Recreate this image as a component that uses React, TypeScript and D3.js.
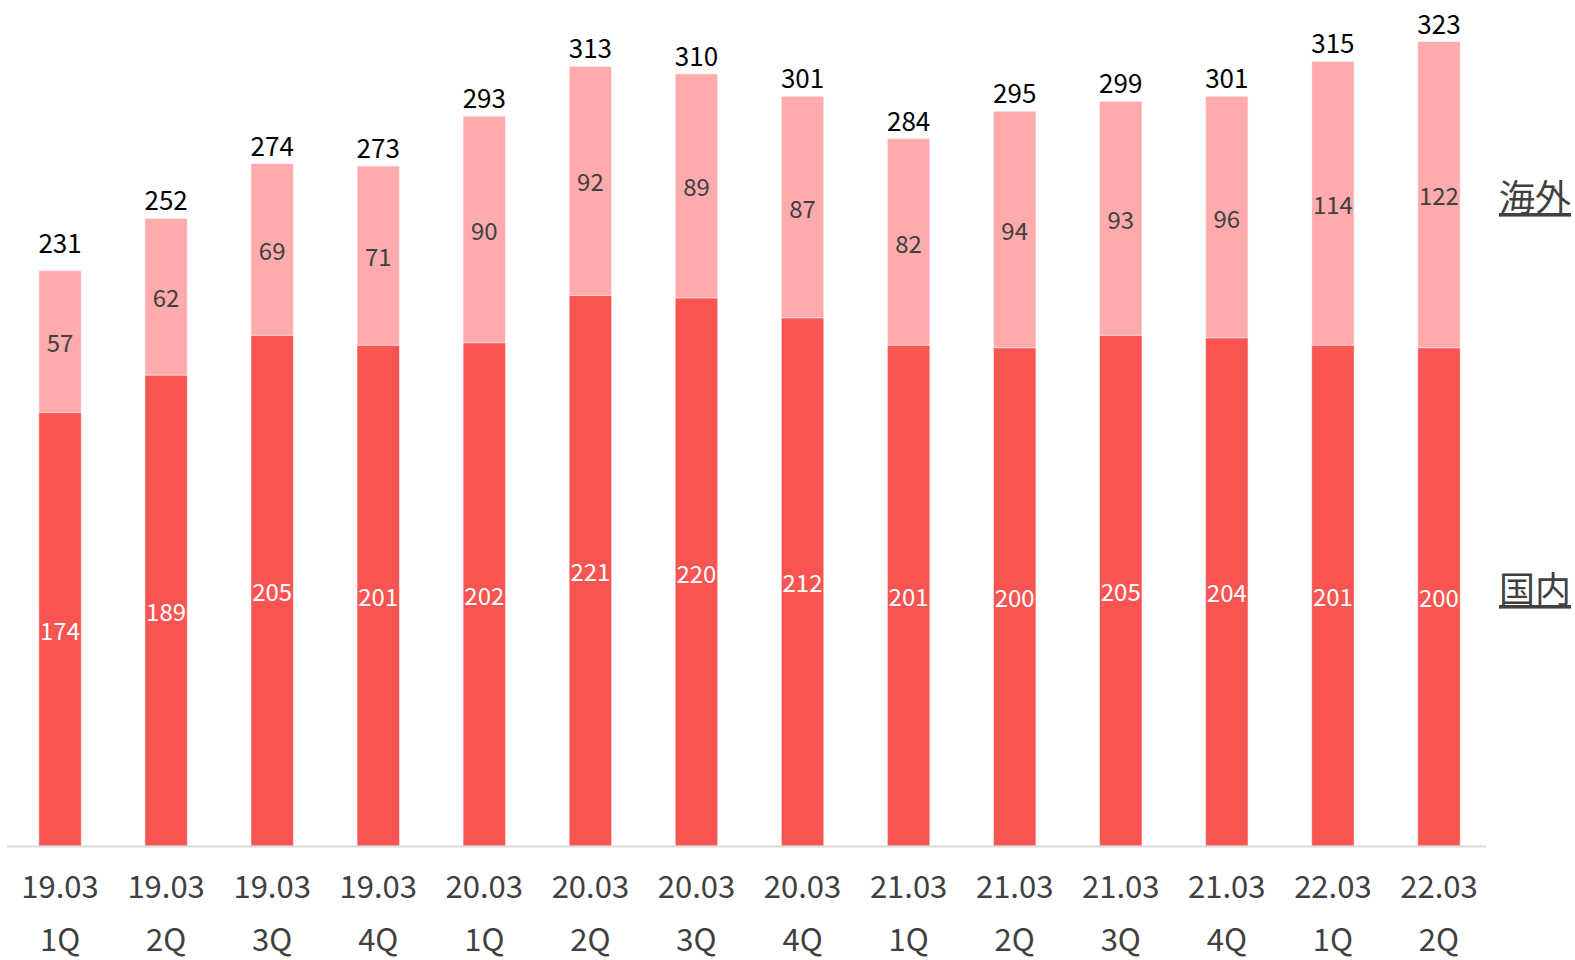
import React from "react";
import * as d3 from "d3";

const periods = ["19.03", "19.03", "19.03", "19.03", "20.03", "20.03", "20.03", "20.03", "21.03", "21.03", "21.03", "21.03", "22.03", "22.03"];
const quarters = ["1Q", "2Q", "3Q", "4Q", "1Q", "2Q", "3Q", "4Q", "1Q", "2Q", "3Q", "4Q", "1Q", "2Q"];
const domestic = [174, 189, 205, 201, 202, 221, 220, 212, 201, 200, 205, 204, 201, 200];
const overseas = [57, 62, 69, 71, 90, 92, 89, 87, 82, 94, 93, 96, 114, 122];
const totals = [231, 252, 274, 273, 293, 313, 310, 301, 284, 295, 299, 301, 315, 323];
const legendLabels = ["海外", "国内"];

const W = 1575;
const H = 960;
const FONT = "'Noto Sans CJK JP', 'Noto Sans', sans-serif";
const DARK = "#F85552";
const LIGHT = "#FFABAE";

export default function App() {
  const keys = periods.map((_, i) => String(i));
  const x = d3.scaleBand<string>().domain(keys).range([7, 1492]).paddingInner(0.6).paddingOuter(0.3);
  const y = d3.scaleLinear().domain([0, 323]).range([846, 41.5]);
  const bw = x.bandwidth();

  return (
    <svg width={W} height={H} style={{ position: "absolute", left: 0, top: 0, background: "#fff" }} fontFamily={FONT}>
      {keys.map((k, i) => {
        const x0 = x(k)!;
        const cx = x0 + bw / 2;
        const yd = y(domestic[i]);
        const yt = y(totals[i]);
        const gap = i === 0 ? 18 : 8;
        return (
          <g key={k}>
            <rect x={x0} y={yt} width={bw} height={yd - yt} fill={LIGHT} stroke="#fff" strokeOpacity={0.5} strokeWidth={1} />
            <rect x={x0} y={yd} width={bw} height={y(0) - yd} fill={DARK} stroke="#fff" strokeOpacity={0.5} strokeWidth={1} />
            <text x={cx} y={(yt + yd) / 2} textAnchor="middle" dominantBaseline="central" fontSize={24} fill="#404040">{overseas[i]}</text>
            <text x={cx} y={(yd + y(0)) / 2} textAnchor="middle" dominantBaseline="central" fontSize={24} fill="#fff">{domestic[i]}</text>
            <text x={cx} y={yt - gap} textAnchor="middle" fontSize={26} fill="#000">{totals[i]}</text>
            <text x={cx} y={898} textAnchor="middle" fontSize={31} fill="#404040">{periods[i]}</text>
            <text x={cx} y={951} textAnchor="middle" fontSize={31} fill="#404040">{quarters[i]}</text>
          </g>
        );
      })}
      <line x1={7} x2={1486} y1={846.5} y2={846.5} stroke="#D9D9D9" strokeWidth={2} />
      <text x={1499} y={211} fontSize={36} fill="#404040" textDecoration="underline">{legendLabels[0]}</text>
      <text x={1499} y={603} fontSize={36} fill="#404040" textDecoration="underline">{legendLabels[1]}</text>
    </svg>
  );
}
